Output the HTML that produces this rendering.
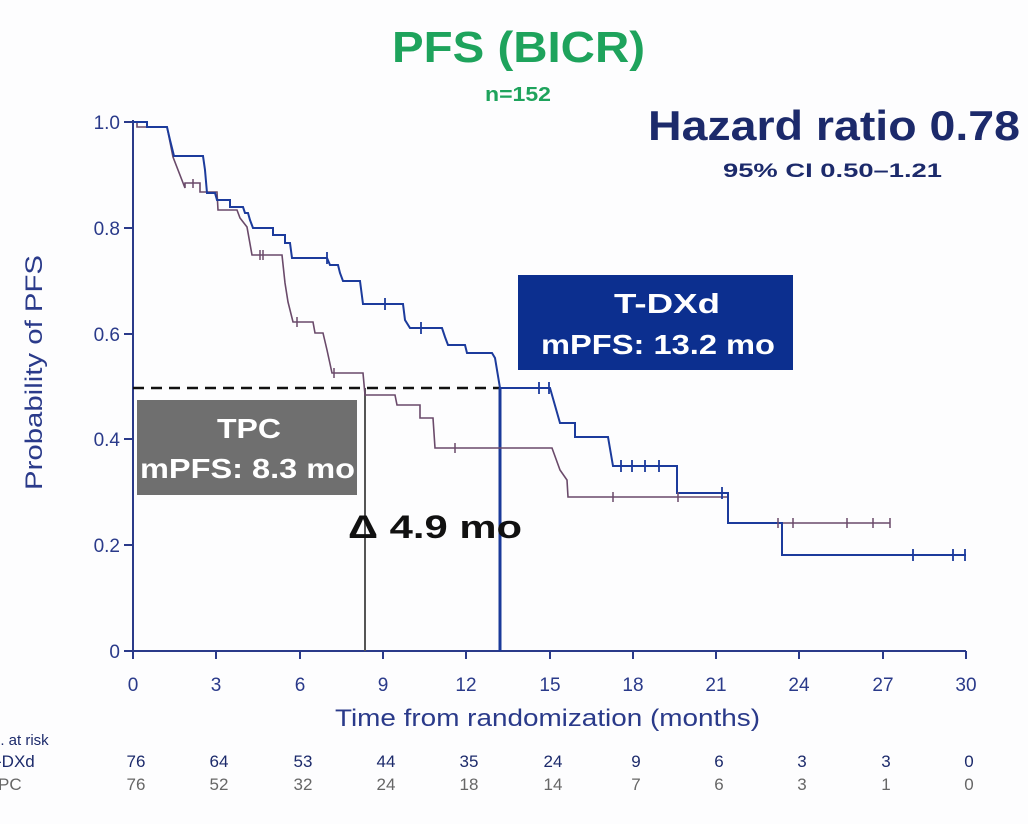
<!DOCTYPE html>
<html><head><style>
body{margin:0;background:#fff;}
svg{display:block;font-family:"Liberation Sans",sans-serif;}
</style></head><body>
<svg width="1028" height="824" viewBox="0 0 1028 824" xmlns="http://www.w3.org/2000/svg">
<rect width="1028" height="824" fill="#fdfdfe"/>
<text x="392" y="62" textLength="253" lengthAdjust="spacingAndGlyphs" font-size="44" font-weight="bold" fill="#1ea35c">PFS (BICR)</text>
<text x="485" y="101" textLength="66" lengthAdjust="spacingAndGlyphs" font-size="20" font-weight="bold" fill="#1ea35c">n=152</text>
<text x="648" y="140" textLength="372" lengthAdjust="spacingAndGlyphs" font-size="42" font-weight="bold" fill="#1c2a6b">Hazard ratio 0.78</text>
<text x="723" y="177" textLength="219" lengthAdjust="spacingAndGlyphs" font-size="19" font-weight="bold" fill="#1c2a6b">95% CI 0.50–1.21</text>
<g stroke="#2a3a8a" stroke-width="2" fill="none">
<line x1="133" y1="120" x2="133" y2="651"/>
<line x1="133" y1="651" x2="966" y2="651"/>
<line x1="124" y1="122" x2="133" y2="122"/><line x1="124" y1="228" x2="133" y2="228"/><line x1="124" y1="334" x2="133" y2="334"/><line x1="124" y1="439" x2="133" y2="439"/><line x1="124" y1="545" x2="133" y2="545"/><line x1="124" y1="651" x2="133" y2="651"/>
<line x1="133" y1="651" x2="133" y2="659"/><line x1="216" y1="651" x2="216" y2="659"/><line x1="300" y1="651" x2="300" y2="659"/><line x1="383" y1="651" x2="383" y2="659"/><line x1="466" y1="651" x2="466" y2="659"/><line x1="550" y1="651" x2="550" y2="659"/><line x1="633" y1="651" x2="633" y2="659"/><line x1="716" y1="651" x2="716" y2="659"/><line x1="799" y1="651" x2="799" y2="659"/><line x1="883" y1="651" x2="883" y2="659"/><line x1="966" y1="651" x2="966" y2="659"/>
</g>
<g font-size="19" fill="#2a3a8a" text-anchor="end">
<text x="120" y="129">1.0</text><text x="120" y="235">0.8</text><text x="120" y="341">0.6</text><text x="120" y="446">0.4</text><text x="120" y="552">0.2</text><text x="120" y="658">0</text>
</g>
<g font-size="19" fill="#2a3a8a" text-anchor="middle">
<text x="133" y="691">0</text><text x="216" y="691">3</text><text x="300" y="691">6</text><text x="383" y="691">9</text><text x="466" y="691">12</text><text x="550" y="691">15</text><text x="633" y="691">18</text><text x="716" y="691">21</text><text x="799" y="691">24</text><text x="883" y="691">27</text><text x="966" y="691">30</text>
</g>
<text x="335" y="726" textLength="425" lengthAdjust="spacingAndGlyphs" font-size="24" fill="#2a3a8a">Time from randomization (months)</text>
<text transform="translate(42,490) rotate(-90)" textLength="235" lengthAdjust="spacingAndGlyphs" font-size="24" fill="#2a3a8a">Probability of PFS</text>
<rect x="518" y="275" width="275" height="95" fill="#0c2f8f"/>
<text x="614" y="313" textLength="106" lengthAdjust="spacingAndGlyphs" font-size="28" font-weight="bold" fill="#fff">T-DXd</text>
<text x="541" y="354" textLength="234" lengthAdjust="spacingAndGlyphs" font-size="28" font-weight="bold" fill="#fff">mPFS: 13.2 mo</text>
<rect x="137" y="400" width="220" height="95" fill="#6f6f6f"/>
<text x="217" y="438" textLength="64" lengthAdjust="spacingAndGlyphs" font-size="28" font-weight="bold" fill="#fff">TPC</text>
<text x="140" y="478" textLength="215" lengthAdjust="spacingAndGlyphs" font-size="28" font-weight="bold" fill="#fff">mPFS: 8.3 mo</text>
<line x1="133" y1="388" x2="500" y2="388" stroke="#111" stroke-width="2.5" stroke-dasharray="11,7"/>
<line x1="365" y1="388" x2="365" y2="651" stroke="#555" stroke-width="2"/>
<line x1="500" y1="388" x2="500" y2="651" stroke="#1a3a9a" stroke-width="3"/>
<text x="348" y="538" textLength="174" lengthAdjust="spacingAndGlyphs" font-size="32" font-weight="bold" fill="#111">Δ 4.9 mo</text>
<polyline fill="none" stroke="#6a4a6a" stroke-width="1.6" points="133,122 137,122 137,127 167,127 173,157 185,188 185,183 200,183 200,192 217,192 218,210 237,210 240,218 247,227 252,255 282,255 285,283 288,302 293,322 313,322 315,333 323,333 327,350 332,373 363,373 365,395 395,395 397,405 420,405 420,418 433,418 435,448 552,448 560,470 567,480 568,497 728,497 728,523 890,523"/>
<polyline fill="none" stroke="#1c3b9c" stroke-width="2" points="133,122 147,122 147,127 167,127 170,140 174,156 203,156 205,170 207,193 215,193 217,200 230,200 230,207 243,207 245,213 248,213 250,220 253,228 273,228 273,235 285,235 285,243 290,243 292,258 327,258 330,265 338,265 340,273 343,281 360,281 363,304 403,304 405,320 410,328 442,328 445,337 448,345 465,345 467,353 492,353 495,358 500,388 550,388 560,423 575,423 575,437 608,437 613,466 677,466 677,493 728,493 728,523 782,523 782,555 966,555"/>
<g stroke="#6a4a6a" stroke-width="1.5">
<line x1="193" y1="179" x2="193" y2="188"/><line x1="260" y1="250" x2="260" y2="260"/><line x1="263" y1="250" x2="263" y2="260"/><line x1="297" y1="317" x2="297" y2="327"/><line x1="334" y1="368" x2="334" y2="378"/><line x1="455" y1="443" x2="455" y2="453"/><line x1="613" y1="492" x2="613" y2="502"/><line x1="678" y1="492" x2="678" y2="502"/><line x1="778" y1="518" x2="778" y2="528"/><line x1="793" y1="518" x2="793" y2="528"/><line x1="847" y1="518" x2="847" y2="528"/><line x1="873" y1="518" x2="873" y2="528"/><line x1="890" y1="518" x2="890" y2="528"/>
</g>
<g stroke="#1c3b9c" stroke-width="1.8">
<line x1="327" y1="252" x2="327" y2="264"/><line x1="385" y1="298" x2="385" y2="310"/><line x1="421" y1="322" x2="421" y2="334"/><line x1="539" y1="382" x2="539" y2="394"/><line x1="549" y1="382" x2="549" y2="394"/><line x1="621" y1="460" x2="621" y2="472"/><line x1="632" y1="460" x2="632" y2="472"/><line x1="645" y1="460" x2="645" y2="472"/><line x1="659" y1="460" x2="659" y2="472"/><line x1="722" y1="487" x2="722" y2="499"/><line x1="913" y1="549" x2="913" y2="561"/><line x1="953" y1="549" x2="953" y2="561"/><line x1="965" y1="549" x2="965" y2="561"/>
</g>
<text x="-8" y="745" font-size="15" fill="#1c2a6b">o. at risk</text>
<text x="-4" y="767" font-size="17" fill="#1c2a6b">-DXd</text>
<text x="-2" y="790" font-size="17" fill="#666">PC</text>
<g font-size="17" text-anchor="middle" fill="#1c2a6b">
<text x="136" y="767">76</text><text x="219" y="767">64</text><text x="303" y="767">53</text><text x="386" y="767">44</text><text x="469" y="767">35</text><text x="553" y="767">24</text><text x="636" y="767">9</text><text x="719" y="767">6</text><text x="802" y="767">3</text><text x="886" y="767">3</text><text x="969" y="767">0</text>
</g>
<g font-size="17" text-anchor="middle" fill="#666">
<text x="136" y="790">76</text><text x="219" y="790">52</text><text x="303" y="790">32</text><text x="386" y="790">24</text><text x="469" y="790">18</text><text x="553" y="790">14</text><text x="636" y="790">7</text><text x="719" y="790">6</text><text x="802" y="790">3</text><text x="886" y="790">1</text><text x="969" y="790">0</text>
</g>
</svg>
</body></html>
